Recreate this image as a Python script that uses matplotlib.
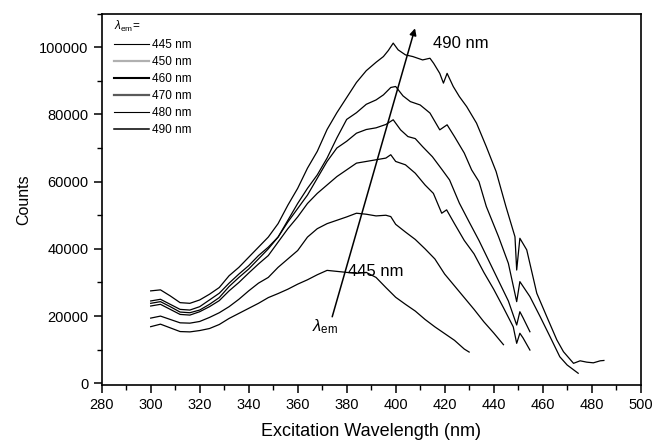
import matplotlib
matplotlib.use("Agg")
import matplotlib.pyplot as plt
from matplotlib.lines import Line2D

plt.rcParams['font.family'] = ['Liberation Sans', 'DejaVu Sans']
plt.rcParams['mathtext.fontset'] = 'custom'
plt.rcParams['mathtext.rm'] = 'Liberation Sans'
plt.rcParams['mathtext.it'] = 'Liberation Sans:italic'

# ---- data ----
wl_445 = [300, 304, 308, 312, 316, 320, 324, 328, 332, 336, 340, 344, 348, 352, 356, 360, 364,
          368, 372, 376, 380, 384, 388, 392, 396, 400, 404, 408, 412, 416, 420, 424, 428, 430]
c_445 = [16850, 17600, 16500, 15400, 15300, 15700, 16300, 17500, 19300, 20800, 22300, 23800, 25500,
         26700, 28000, 29500, 30800, 32300, 33600, 33300, 33000, 32700, 33000, 31500, 28500, 25600,
         23500, 21500, 19000, 16800, 14800, 12800, 10200, 9300]

wl_450 = [300, 304, 308, 312, 316, 320, 324, 328, 332, 336, 340, 344, 348, 352, 356, 360, 364, 368,
          372, 376, 380, 384, 388, 392, 396, 398, 400, 404, 408, 412, 416, 420, 424, 428, 432, 436,
          440, 444]
c_450 = [19400, 20000, 19000, 18000, 17900, 18400, 19600, 21000, 22800, 25000, 27500, 29800, 31500,
         34500, 37000, 39500, 43500, 46000, 47500, 48500, 49500, 50600, 50300, 49800, 50000, 49600,
         47300, 45000, 42800, 40000, 37000, 32500, 29000, 25500, 22000, 18300, 15000, 11500]

wl_460 = [300, 304, 308, 312, 316, 320, 324, 328, 332, 336, 340, 344, 348, 352, 356, 360, 364, 368,
          372, 376, 380, 384, 388, 392, 396, 398, 400, 404, 408, 412, 415.4, 418.8, 420.8, 424, 428,
          432, 436, 440, 444, 448, 449.4, 450.7, 452, 454.8]
c_460 = [23000, 23500, 22000, 20500, 20300, 21300, 22800, 24600, 27500, 30000, 32800, 35500, 38000,
         42000, 46000, 49500, 53500, 56500, 59000, 61500, 63500, 65500, 66000, 66500, 67000, 68000,
         66000, 65000, 62500, 59000, 56500, 50600, 51600, 47500, 42500, 38500, 33000, 28000, 22500,
         16800, 11900, 14900, 13500, 9900]

wl_470 = [300, 304, 308, 312, 316, 320, 324, 328, 332, 336, 340, 344, 348, 352, 356, 360, 364, 368,
          372, 376, 380, 384, 388, 392, 396, 399, 402, 405, 408, 411, 415, 419, 422, 426, 430, 434,
          438, 442, 446, 449.4, 450.7, 452, 454.8]
c_470 = [23800, 24300, 22800, 21200, 21000, 21800, 23500, 25500, 28800, 31500, 34000, 37000, 40000,
         43500, 48000, 52000, 56000, 61000, 66000, 70000, 72000, 74400, 75500, 76000, 77000, 78400,
         75400, 73400, 72800, 70400, 67400, 63500, 60500, 53600, 48000, 42500, 36500, 30500, 24500,
         17350, 21300, 19500, 15350]

wl_480 = [300, 304, 308, 312, 316, 320, 324, 328, 332, 336, 340, 344, 348, 352, 356, 360, 364, 368,
          372, 376, 380, 384, 388, 392, 395, 398, 400, 403, 406, 410, 414, 418, 421, 424, 428, 431,
          434, 437, 442, 446, 449.4, 450.7, 454.8, 459, 463, 467, 470, 474.5]
c_480 = [24500, 25000, 23500, 22000, 21800, 22800, 24800, 26800, 29800, 32500, 35000, 38000, 40500,
         43500, 48500, 53500, 58000, 62000, 67000, 73000, 78500, 80500, 83000, 84300, 85800, 88000,
         88300, 85500, 83800, 82800, 80400, 75400, 76900, 73400, 68500, 63500, 60000, 52600, 43600,
         35700, 24300, 30250, 25800, 19800, 13900, 7900, 5450, 3000]

wl_490 = [300, 304, 308, 312, 316, 320, 324, 328, 332, 336, 340, 344, 348, 352, 356, 360, 364, 368,
          372, 376, 380, 384, 388, 392, 395, 397, 399, 401, 404, 407, 411, 414, 415.5, 418, 419.5,
          421, 423.5, 426, 429, 433, 437, 441, 445, 448.7, 449.4, 450.7, 453.5, 457.6, 461.7, 465.8,
          468.5, 472.6, 475.3, 478, 480.7, 483.5, 485]
c_490 = [27500, 27800, 26000, 24000, 23800, 24800, 26500, 28500, 32000, 34500, 37500, 40500, 43500,
         47500, 53000, 58000, 64000, 69000, 75500, 80500, 85000, 89500, 93000, 95500, 97200, 99000,
         101200, 99200, 97700, 97200, 96200, 96700, 95200, 92200, 89300, 92200, 88300, 85300, 82300,
         77400, 70400, 63000, 52600, 43600, 33700, 43150, 39700, 26800, 19800, 12900, 9400, 5950,
         6700, 6300, 6100, 6700, 6800]

series_labels = ['445 nm', '450 nm', '460 nm', '470 nm', '480 nm', '490 nm']
legend_colors = ['black', '#b0b0b0', 'black', '#5a5a5a', 'black', 'black']
legend_widths = [0.8, 1.6, 1.5, 1.6, 0.8, 1.1]

x_ticks = [280, 300, 320, 340, 360, 380, 400, 420, 440, 460, 480, 500]
y_ticks = [0, 20000, 40000, 60000, 80000, 100000]

# ---- figure ----
fig = plt.figure(figsize=(6.56, 4.45), dpi=100)
ax = fig.add_axes([0.155, 0.1348, 0.8216, 0.8348])

all_wl = [wl_445, wl_450, wl_460, wl_470, wl_480, wl_490]
all_c = [c_445, c_450, c_460, c_470, c_480, c_490]
for w, c in zip(all_wl, all_c):
    ax.plot(w, c, color='black', lw=0.9)

ax.set_xlim(280, 500)
ax.set_ylim(-500, 110000)
ax.set_xticks(x_ticks)
ax.set_xticks(range(290, 500, 20), minor=True)
ax.set_yticks(y_ticks)
ax.set_yticks(range(10000, 110001, 20000), minor=True)
ax.tick_params(axis='both', which='major', direction='out', length=6, width=1.1,
               labelsize=10.5, top=False, right=False)
ax.tick_params(axis='both', which='minor', direction='out', length=3.5, width=1.0,
               top=False, right=False)
for s in ax.spines.values():
    s.set_linewidth(1.2)

ax.set_xlabel('Excitation Wavelength (nm)', fontsize=13, labelpad=8)
ax.set_ylabel('Counts', fontsize=11.5, labelpad=6)

# arrow and annotations
ax.annotate('', xy=(407.9, 105600), xytext=(374.1, 19800),
            arrowprops=dict(arrowstyle='-|>', color='black', lw=1.1, mutation_scale=10,
                            shrinkA=0, shrinkB=0))
ax.text(415.3, 101000, '490 nm', fontsize=12, ha='left', va='center')
ax.text(380.5, 33300, '445 nm', fontsize=12, ha='left', va='center')
ax.text(371, 19500, r'$\lambda_{\rm em}$', fontsize=12, ha='center', va='top')

handles = [Line2D([0], [0], color=col, lw=lw) for col, lw in zip(legend_colors, legend_widths)]
leg = ax.legend(handles, series_labels, title=r'$\lambda_{\rm em}$=', loc='upper left',
                bbox_to_anchor=(0.022, 0.985), borderaxespad=0, borderpad=0, frameon=False,
                fontsize=8.5, title_fontsize=8.5, handlelength=3.0, handletextpad=0.25,
                labelspacing=0.42, alignment='left')

fig.savefig('out.png', dpi=100)
